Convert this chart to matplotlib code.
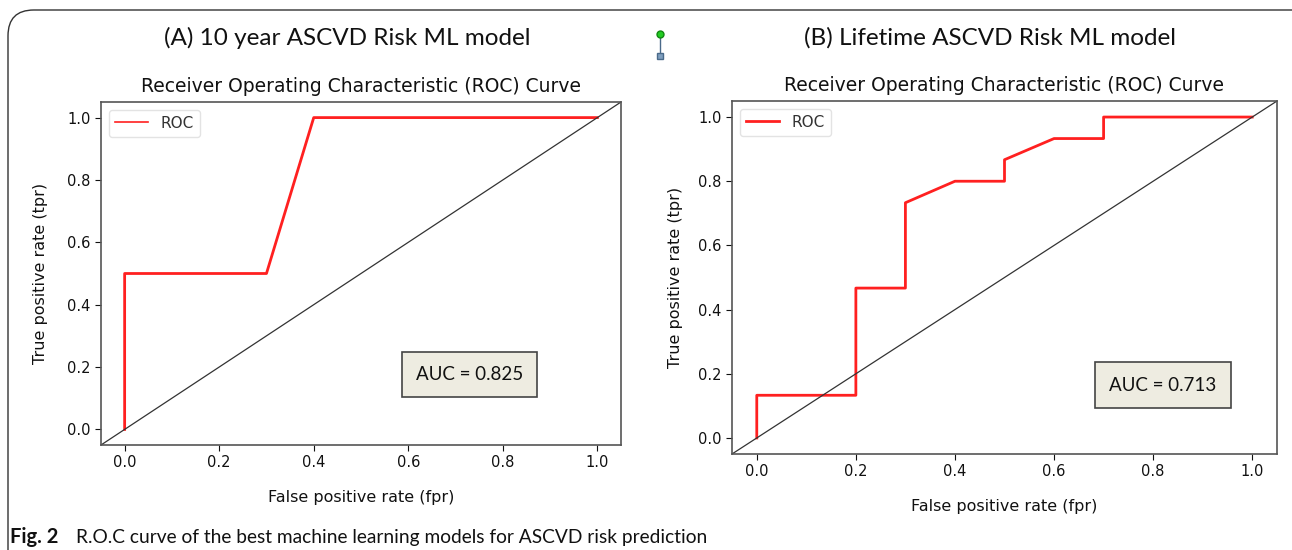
import matplotlib
matplotlib.use("Agg")
import matplotlib.pyplot as plt
from matplotlib.patches import FancyBboxPatch
from matplotlib.lines import Line2D

# ---- data ----
fpr_a = [0.0, 0.0, 0.3, 0.4, 1.0]
tpr_a = [0.0, 0.5, 0.5, 1.0, 1.0]
fpr_b = [0.0, 0.0, 0.2, 0.2, 0.3, 0.3, 0.4, 0.5, 0.5, 0.6, 0.7, 0.7, 1.0]
tpr_b = [0.0, 0.133, 0.133, 0.467, 0.467, 0.733, 0.8, 0.8, 0.867, 0.933, 0.933, 1.0, 1.0]
auc_a = "AUC = 0.825"
auc_b = "AUC = 0.713"
panel_titles = ["(A) 10 year ASCVD Risk ML model", "(B) Lifetime ASCVD Risk ML model"]
ticks = [0.0, 0.2, 0.4, 0.6, 0.8, 1.0]
tick_labels = ["0.0", "0.2", "0.4", "0.6", "0.8", "1.0"]

W, H = 1292, 550
fig = plt.figure(figsize=(W / 100, H / 100), dpi=100)

# outer rounded frame
frame = FancyBboxPatch((8 / W, -0.2), 1.5, 0.2 + 1 - 10 / H,
                       boxstyle="round,pad=0,rounding_size=0.02",
                       transform=fig.transFigure, fill=False,
                       edgecolor="#333333", linewidth=1.0, mutation_aspect=W / H)
fig.patches.append(frame)

def px(x0, y0, x1, y1):
    return [x0 / W, 1 - y1 / H, (x1 - x0) / W, (y1 - y0) / H]

ax_a = fig.add_axes(px(101, 102, 621, 445))
ax_b = fig.add_axes(px(732, 101, 1277, 454))

for ax, fx, ty, auc, (bx, by), lw_leg, ylp in [
        (ax_a, fpr_a, tpr_a, auc_a, (0.73, 0.176), 1.2, 14),
        (ax_b, fpr_b, tpr_b, auc_b, (0.82, 0.165), 2.0, 11)]:
    ax.plot(fx, ty, color="#ff2020", linewidth=2.0, label="ROC")
    ax.plot([0, 1], [0, 1], transform=ax.transAxes, color="#333333", linewidth=0.9)
    ax.set_xlim(-0.05, 1.05)
    ax.set_ylim(-0.05, 1.05)
    ax.set_xticks(ticks)
    ax.set_xticklabels(tick_labels)
    ax.set_yticks(ticks)
    ax.set_yticklabels(tick_labels)
    ax.tick_params(labelsize=10.5, colors="#111111", length=4, width=0.8)
    for s in ax.spines.values():
        s.set_color("#555555")
        s.set_linewidth(1.2)
    ax.set_title("Receiver Operating Characteristic (ROC) Curve", fontsize=13.5, color="#111111", pad=7)
    ax.set_xlabel("False positive rate (fpr)", fontsize=11.5, color="#111111", labelpad=14)
    ax.set_ylabel("True positive rate (tpr)", fontsize=11.5, color="#111111", labelpad=ylp)
    leg = ax.legend(loc="upper left", fontsize=11, handlelength=2.2, frameon=True)
    leg.get_frame().set_edgecolor("#dddddd")
    for t in leg.get_texts():
        t.set_color("#333333")
    for l in leg.get_lines():
        l.set_linewidth(lw_leg)
    ax.text(bx, by, auc, fontsize=13.5, family="Lato", ha="center", va="center",
            color="#111111",
            bbox=dict(boxstyle="square,pad=0.75", facecolor="#eeece1", edgecolor="#444444", linewidth=1.2))

fig.text(347 / W, 1 - 38 / H, panel_titles[0], fontsize=17.5, family="Lato", ha="center", va="center", color="#111111")
fig.text(990 / W, 1 - 38 / H, panel_titles[1], fontsize=17.5, family="Lato", ha="center", va="center", color="#111111")

# small connector glyph
fig.add_artist(Line2D([660 / W, 660 / W], [1 - 35 / H, 1 - 55 / H], transform=fig.transFigure,
                      color="#4a6a8a", linewidth=1.0))
fig.add_artist(Line2D([660 / W], [1 - 34 / H], transform=fig.transFigure, marker="o",
                      markersize=5, color="#22cc22", markeredgecolor="#118811", linestyle="none"))
fig.add_artist(Line2D([660 / W], [1 - 56 / H], transform=fig.transFigure, marker="s",
                      markersize=5, color="#7f9fbf", markeredgecolor="#4a6a8a", linestyle="none"))

fig.text(10 / W, 1 - 537 / H, "Fig. 2", fontsize=14.5, family="Lato", fontweight="bold",
         ha="left", va="center", color="#111111")
fig.text(76 / W, 1 - 537 / H, "R.O.C curve of the best machine learning models for ASCVD risk prediction",
         fontsize=13.8, family="Lato", ha="left", va="center", color="#111111")

fig.savefig("out.png", dpi=100)
